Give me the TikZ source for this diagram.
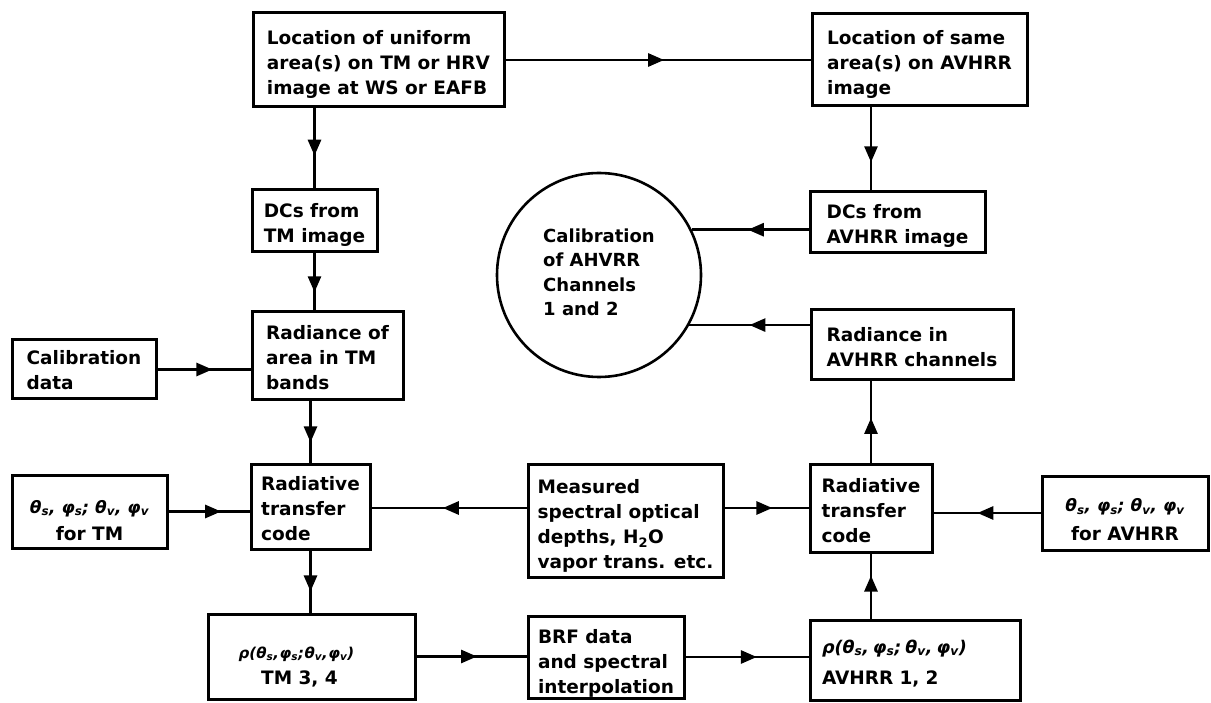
\documentclass[tikz,border=0pt]{standalone}
\usepackage{fontspec}
\setmainfont{DejaVu Sans}
\usetikzlibrary{arrows.meta,decorations.markings}
\newcommand{\geomangles}{{\fontsize{17}{25}\selectfont\textit{θ\textsubscript{s}, φ\textsubscript{s}; θ\textsubscript{v}, φ\textsubscript{v}}}}
\newcommand{\rhoangles}[2]{{\fontsize{#1}{25}\selectfont\textit{ρ(θ\textsubscript{s},\kern#2pt φ\textsubscript{s};\kern#2pt θ\textsubscript{v},\kern#2pt φ\textsubscript{v})}}}
\newcommand{\tstrut}[1]{\rule{0pt}{#1pt}}
\tikzset{
  bx/.style={draw, line width=3pt, align=left, inner xsep=6pt, inner ysep=0pt},
  sz/.style 2 args={minimum width=#1pt, minimum height=#2pt},
  flow/.style={line width=2.8pt, postaction={decorate},
    decoration={markings, mark=at position #1 with {\arrow{Triangle[length=16pt,width=13pt]}}}},
}
\begin{document}
\begin{tikzpicture}[x=1pt, y=-1pt, font=\bfseries\fontsize{18.5}{25}\selectfont]
\useasboundingbox (0,0) rectangle (1211,703);
% boxes
\node[bx, sz={251}{94}] (A) at (378.5,60) {\tstrut{22}Location of uniform\\area(s) on TM or HRV\\image at WS or EAFB};
\node[bx, sz={215}{92}] (B) at (919.5,60) {\tstrut{23}Location of same\\area(s) on AVHRR\\image};
\node[bx, sz={125}{62}] (DCsTM) at (314.5,221) {\tstrut{22}DCs from\\TM image};
\node[bx, sz={175}{61}] (DCsAV) at (897.5,222.5) {\tstrut{20}DCs from\\AVHRR image};
\node[bx, sz={151}{88}] (RadTM) at (327.5,356) {\tstrut{18}Radiance of\\area in TM\\bands};
\node[bx, sz={144}{59}] (Calib) at (84,369.5) {\tstrut{16}Calibration\\data};
\node[bx, sz={202}{70}] (RadAV) at (912,345) {\tstrut{18}Radiance in\\AVHRR channels};
\node[draw, circle, line width=2.6pt, minimum size=204pt, inner sep=0pt, align=left,
  font=\bfseries\fontsize{18}{24.5}\selectfont] (C) at (599,275) {Calibration\\of AHVRR\\Channels\\1 and 2\rule[-6pt]{0pt}{6pt}};
\node[bx, sz={155}{73}, align=center] (ThetaTM) at (89.5,511.5) {\tstrut{31}\geomangles\\[2pt]for TM};
\node[bx, sz={119}{85}] (RadiativeTM) at (310.5,506.5) {\tstrut{18}Radiative\\transfer\\code};
\node[bx, sz={195}{113}] (Measured) at (625.5,520.5) {\tstrut{25}Measured\\spectral optical\\depths, H\textsubscript{2}O\\vapor trans. etc.};
\node[bx, sz={122}{88}] (RadiativeAV) at (871,508) {\tstrut{20}Radiative\\transfer\\code};
\node[bx, sz={166}{74}, align=center] (ThetaAV) at (1125,513) {\tstrut{27}\geomangles\\[4pt]for AVHRR};
\node[bx, sz={207}{85}, align=center] (rhoTM) at (311.5,656.5) {\tstrut{33}\rhoangles{15}{0.5}\kern30pt\\[1pt]TM 3, 4\kern24pt};
\node[bx, sz={156}{82}] (BRF) at (606,657) {\tstrut{27}BRF data\\and spectral\\interpolation};
\node[bx, sz={210}{80}, text width=186pt, inner xsep=12pt] (rhoAV) at (915,660) {\tstrut{20}\rhoangles{17.5}{4}\\[6pt]AVHRR 1, 2};
% connectors
\draw[flow=0.52] (A.east) -- (B.west);
\draw[flow=0.59] (A.south -| DCsTM.north) -- (DCsTM.north);
\draw[flow=0.68] (DCsTM.south) -- (DCsTM.south |- RadTM.north);
\draw[flow=0.67] (RadiativeTM.north |- RadTM.south) -- (RadiativeTM.north);
\draw[flow=0.59] (Calib.east) -- (Calib.east -| RadTM.west);
\draw[flow=0.65] (ThetaTM.east) -- (ThetaTM.east -| RadiativeTM.west);
\draw[flow=0.66] (RadiativeTM.south) -- (RadiativeTM.south |- rhoTM.north);
\draw[flow=0.54] (Measured.west |- RadiativeAV.west) -- (RadiativeTM.east |- RadiativeAV.west);
\draw[flow=0.57] (Measured.east |- RadiativeAV.west) -- (RadiativeAV.west);
\draw[flow=0.55] (rhoTM.east) -- (rhoTM.east -| BRF.west);
\draw[flow=0.58] (BRF.east) -- (BRF.east -| rhoAV.west);
\draw[flow=0.66] (RadiativeAV.south |- rhoAV.north) -- (RadiativeAV.south);
\draw[flow=0.55] (RadiativeAV.north) -- (RadiativeAV.north |- RadAV.south);
\draw[flow=0.59] (ThetaAV.west) -- (ThetaAV.west -| RadiativeAV.east);
\draw[flow=0.66] (B.south -| RadiativeAV.north) -- (DCsAV.north -| RadiativeAV.north);
\draw[flow=0.52] (C.26 -| DCsAV.west) -- (C.26);
\draw[flow=0.5] (C.-29 -| RadAV.west) -- (C.-29);
\end{tikzpicture}
\end{document}
